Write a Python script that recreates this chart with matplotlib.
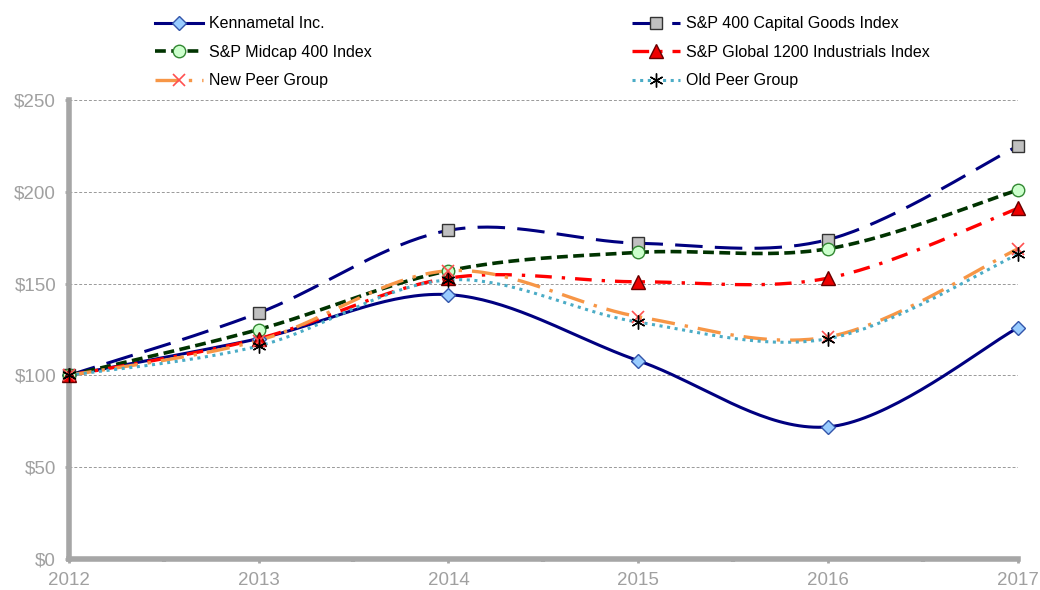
import matplotlib
matplotlib.use("Agg")
import matplotlib.pyplot as plt
import numpy as np

# Data
years = [2012, 2013, 2014, 2015, 2016, 2017]
kennametal = [100, 120, 144, 108, 72, 126]
cap_goods = [100, 134, 179, 172, 174, 225]
midcap = [100, 125, 157, 167, 169, 201]
global1200 = [100, 120, 153, 151, 153, 191]
new_peer = [100, 119, 157, 132, 121, 169]
old_peer = [100, 116, 152, 129, 120, 166]
yticks = [0, 50, 100, 150, 200, 250]


def smooth(x, y, n=40):
    # Excel-like smoothed line: bezier segments with catmull-rom control points
    x = np.asarray(x, float)
    y = np.asarray(y, float)
    px = np.concatenate([[x[0]], x, [x[-1]]])
    py = np.concatenate([[y[0]], y, [y[-1]]])
    xs, ys = [], []
    t = np.linspace(0, 1, n)
    for i in range(1, len(px) - 2):
        p0 = np.array([px[i], py[i]])
        p3 = np.array([px[i + 1], py[i + 1]])
        c1 = p0 + (np.array([px[i + 1], py[i + 1]]) - np.array([px[i - 1], py[i - 1]])) / 6.0
        c2 = p3 - (np.array([px[i + 2], py[i + 2]]) - np.array([px[i], py[i]])) / 6.0
        b = ((1 - t) ** 3)[:, None] * p0 + (3 * (1 - t) ** 2 * t)[:, None] * c1 \
            + (3 * (1 - t) * t ** 2)[:, None] * c2 + (t ** 3)[:, None] * p3
        xs.extend(b[:, 0])
        ys.extend(b[:, 1])
    return np.array(xs), np.array(ys)


plt.rcParams['font.family'] = ['Liberation Sans', 'DejaVu Sans']

fig = plt.figure(figsize=(10.4, 5.9), dpi=100)
ax = fig.add_axes([0.066, 0.0525, 0.913, 0.778])

series = [
    ("Kennametal Inc.", kennametal, dict(color='#000080', lw=2.2, ls='-'),
     dict(marker='D', ms=7, mfc='#99ccff', mec='#3355aa')),
    ("S&P 400 Capital Goods Index", cap_goods, dict(color='#000080', lw=2.2, dashes=(9, 4)),
     dict(marker='s', ms=9, mfc='#c0c0c0', mec='#333333')),
    ("S&P Midcap 400 Index", midcap, dict(color='#003300', lw=2.6, dashes=(3, 1.5)),
     dict(marker='o', ms=9, mfc='#ccffcc', mec='#338833')),
    ("S&P Global 1200 Industrials Index", global1200, dict(color='#ff0000', lw=2.4, dashes=(5, 3, 1, 3)),
     dict(marker='^', ms=10, mfc='#ee0000', mec='#660000')),
    ("New Peer Group", new_peer, dict(color='#f79646', lw=2.4, dashes=(7, 3, 1, 3)),
     dict(marker='x', ms=9, mfc='none', mec='#ff5050', mew=1.2)),
    ("Old Peer Group", old_peer, dict(color='#4bacc6', lw=2.2, dashes=(1, 1.5)),
     dict(marker=(6, 2, 0), ms=10, mfc='none', mec='#000000', mew=1.0)),
]

handles = []
for i, (name, vals, lstyle, mstyle) in enumerate(series):
    sx, sy = smooth(years, vals)
    ax.plot(sx, sy, clip_on=False, zorder=3 + i, **lstyle)
    ax.plot(years, vals, ls='none', clip_on=False, zorder=10 + i, **mstyle)
    h, = ax.plot([], [], label=name, **lstyle, **mstyle)
    handles.append(h)

ax.set_xlim(2012, 2017)
ax.set_ylim(0, 250)
ax.set_yticks(yticks)
ax.set_yticklabels(["$%d" % v for v in yticks])
ax.set_xticks(years)
ax.set_xticks([y + 0.5 for y in years[:-1]], minor=True)
ax.grid(axis='y', color='#999999', ls=(0, (3, 2)), lw=0.7)
ax.set_axisbelow(True)

for s in ['top', 'right']:
    ax.spines[s].set_visible(False)
for s in ['left', 'bottom']:
    ax.spines[s].set_color('#a6a6a6')
    ax.spines[s].set_linewidth(4)
ax.tick_params(axis='both', colors='#a6a6a6', labelcolor='#a0a0a0', labelsize=13.5, width=2, length=3)
ax.tick_params(axis='x', which='minor', colors='#a6a6a6', width=3, length=2)
ax.tick_params(axis='x', pad=6)
ax.tick_params(axis='y', pad=6)

order = [0, 2, 4, 1, 3, 5]
fig.legend([handles[i] for i in order], [handles[i].get_label() for i in order],
           ncol=2, loc='upper left', bbox_to_anchor=(0.135, 0.997), frameon=False,
           fontsize=11.5, handlelength=3.0, columnspacing=16.3, labelspacing=0.85,
           handletextpad=0.4, numpoints=1)

fig.savefig("out.png", dpi=100)
